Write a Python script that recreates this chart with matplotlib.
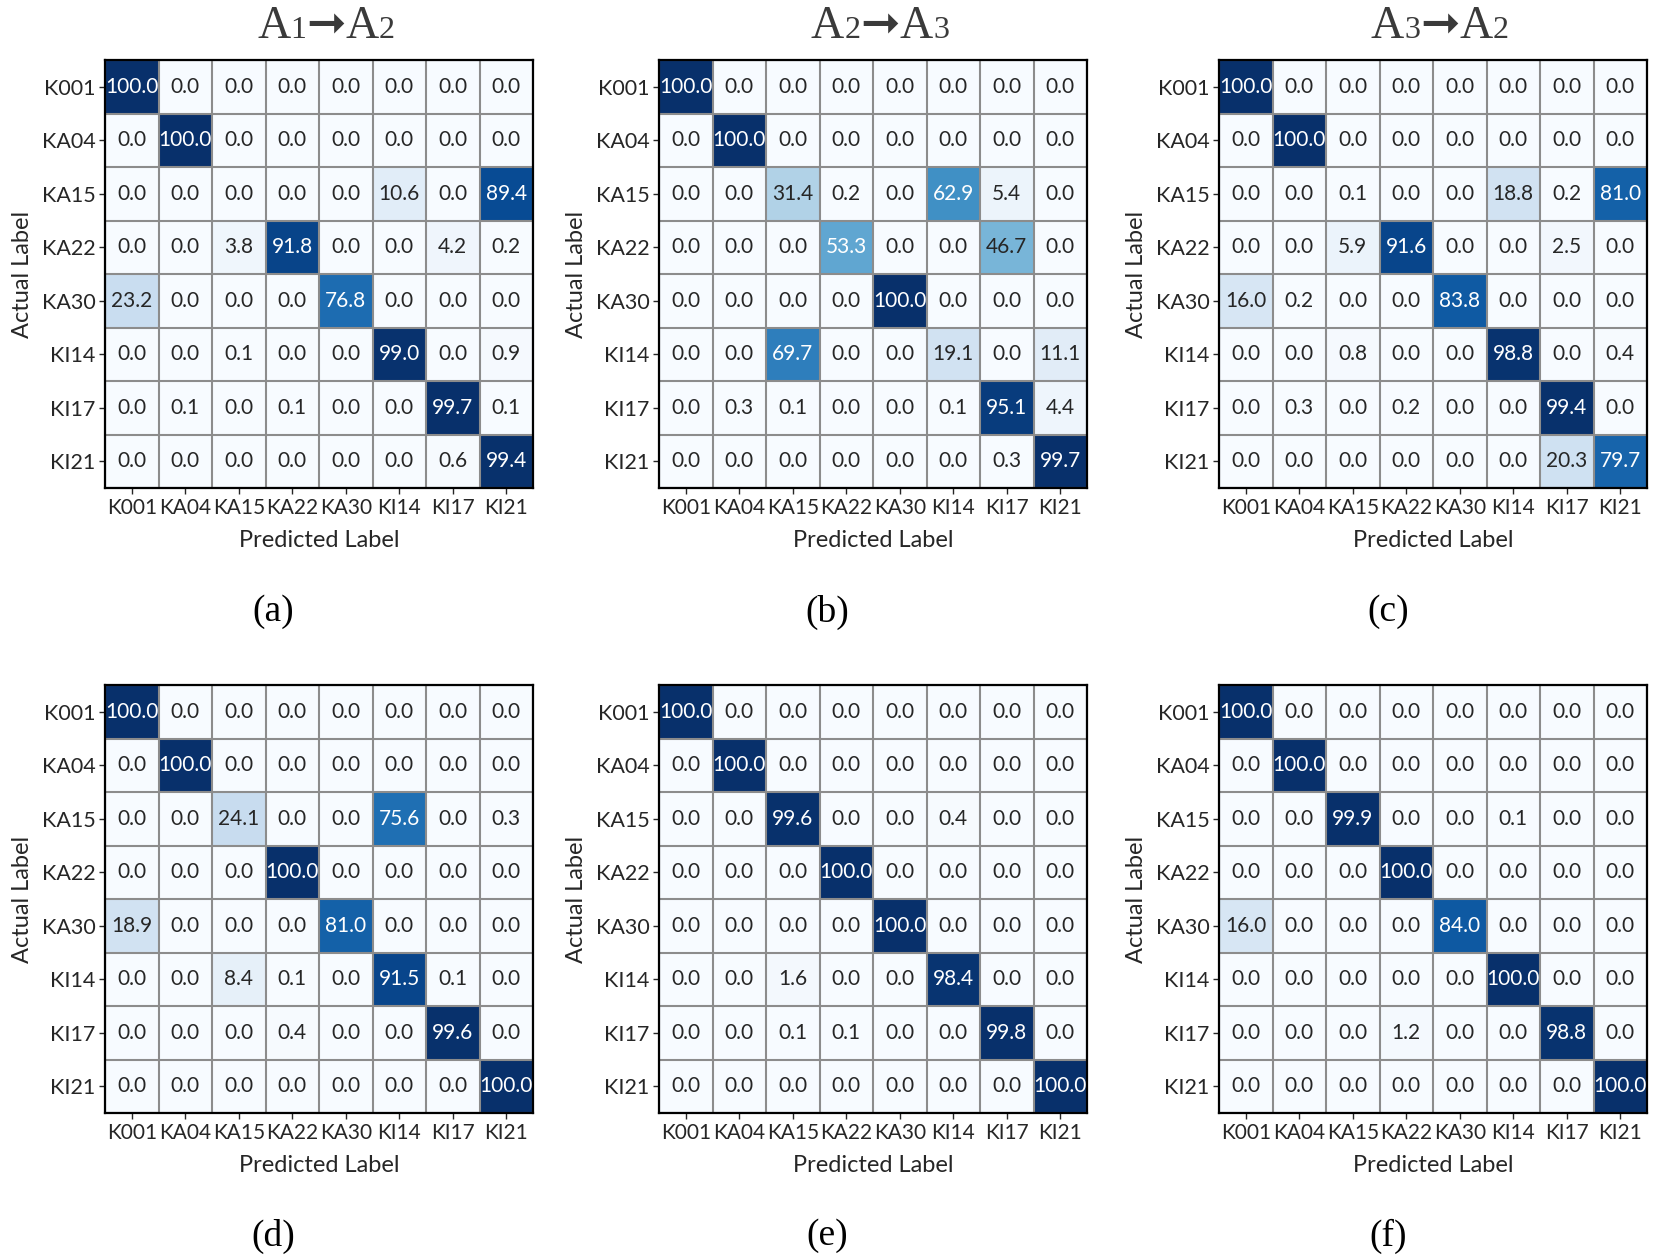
import matplotlib
matplotlib.use("Agg")
import matplotlib.pyplot as plt
import numpy as np

LABELS = ["K001", "KA04", "KA15", "KA22", "KA30", "KI14", "KI17", "KI21"]

CM_A = [[100.0, 0.0, 0.0, 0.0, 0.0, 0.0, 0.0, 0.0],
        [0.0, 100.0, 0.0, 0.0, 0.0, 0.0, 0.0, 0.0],
        [0.0, 0.0, 0.0, 0.0, 0.0, 10.6, 0.0, 89.4],
        [0.0, 0.0, 3.8, 91.8, 0.0, 0.0, 4.2, 0.2],
        [23.2, 0.0, 0.0, 0.0, 76.8, 0.0, 0.0, 0.0],
        [0.0, 0.0, 0.1, 0.0, 0.0, 99.0, 0.0, 0.9],
        [0.0, 0.1, 0.0, 0.1, 0.0, 0.0, 99.7, 0.1],
        [0.0, 0.0, 0.0, 0.0, 0.0, 0.0, 0.6, 99.4]]

CM_B = [[100.0, 0.0, 0.0, 0.0, 0.0, 0.0, 0.0, 0.0],
        [0.0, 100.0, 0.0, 0.0, 0.0, 0.0, 0.0, 0.0],
        [0.0, 0.0, 31.4, 0.2, 0.0, 62.9, 5.4, 0.0],
        [0.0, 0.0, 0.0, 53.3, 0.0, 0.0, 46.7, 0.0],
        [0.0, 0.0, 0.0, 0.0, 100.0, 0.0, 0.0, 0.0],
        [0.0, 0.0, 69.7, 0.0, 0.0, 19.1, 0.0, 11.1],
        [0.0, 0.3, 0.1, 0.0, 0.0, 0.1, 95.1, 4.4],
        [0.0, 0.0, 0.0, 0.0, 0.0, 0.0, 0.3, 99.7]]

CM_C = [[100.0, 0.0, 0.0, 0.0, 0.0, 0.0, 0.0, 0.0],
        [0.0, 100.0, 0.0, 0.0, 0.0, 0.0, 0.0, 0.0],
        [0.0, 0.0, 0.1, 0.0, 0.0, 18.8, 0.2, 81.0],
        [0.0, 0.0, 5.9, 91.6, 0.0, 0.0, 2.5, 0.0],
        [16.0, 0.2, 0.0, 0.0, 83.8, 0.0, 0.0, 0.0],
        [0.0, 0.0, 0.8, 0.0, 0.0, 98.8, 0.0, 0.4],
        [0.0, 0.3, 0.0, 0.2, 0.0, 0.0, 99.4, 0.0],
        [0.0, 0.0, 0.0, 0.0, 0.0, 0.0, 20.3, 79.7]]

CM_D = [[100.0, 0.0, 0.0, 0.0, 0.0, 0.0, 0.0, 0.0],
        [0.0, 100.0, 0.0, 0.0, 0.0, 0.0, 0.0, 0.0],
        [0.0, 0.0, 24.1, 0.0, 0.0, 75.6, 0.0, 0.3],
        [0.0, 0.0, 0.0, 100.0, 0.0, 0.0, 0.0, 0.0],
        [18.9, 0.0, 0.0, 0.0, 81.0, 0.0, 0.0, 0.0],
        [0.0, 0.0, 8.4, 0.1, 0.0, 91.5, 0.1, 0.0],
        [0.0, 0.0, 0.0, 0.4, 0.0, 0.0, 99.6, 0.0],
        [0.0, 0.0, 0.0, 0.0, 0.0, 0.0, 0.0, 100.0]]

CM_E = [[100.0, 0.0, 0.0, 0.0, 0.0, 0.0, 0.0, 0.0],
        [0.0, 100.0, 0.0, 0.0, 0.0, 0.0, 0.0, 0.0],
        [0.0, 0.0, 99.6, 0.0, 0.0, 0.4, 0.0, 0.0],
        [0.0, 0.0, 0.0, 100.0, 0.0, 0.0, 0.0, 0.0],
        [0.0, 0.0, 0.0, 0.0, 100.0, 0.0, 0.0, 0.0],
        [0.0, 0.0, 1.6, 0.0, 0.0, 98.4, 0.0, 0.0],
        [0.0, 0.0, 0.1, 0.1, 0.0, 0.0, 99.8, 0.0],
        [0.0, 0.0, 0.0, 0.0, 0.0, 0.0, 0.0, 100.0]]

CM_F = [[100.0, 0.0, 0.0, 0.0, 0.0, 0.0, 0.0, 0.0],
        [0.0, 100.0, 0.0, 0.0, 0.0, 0.0, 0.0, 0.0],
        [0.0, 0.0, 99.9, 0.0, 0.0, 0.1, 0.0, 0.0],
        [0.0, 0.0, 0.0, 100.0, 0.0, 0.0, 0.0, 0.0],
        [16.0, 0.0, 0.0, 0.0, 84.0, 0.0, 0.0, 0.0],
        [0.0, 0.0, 0.0, 0.0, 0.0, 100.0, 0.0, 0.0],
        [0.0, 0.0, 0.0, 1.2, 0.0, 0.0, 98.8, 0.0],
        [0.0, 0.0, 0.0, 0.0, 0.0, 0.0, 0.0, 100.0]]

PANELS   = [CM_A, CM_B, CM_C, CM_D, CM_E, CM_F]
CAPTIONS = ["(a)", "(b)", "(c)", "(d)", "(e)", "(f)"]
TITLES   = [("1", "2"), ("2", "3"), ("3", "2")]

W, H = 1661, 1260
SANS  = ["Lato", "DejaVu Sans"]
SERIF = ["Liberation Serif", "DejaVu Sans"]
TXT = "#262626"

fig = plt.figure(figsize=(W/100, H/100), dpi=100)
col_left = [105, 659, 1219]
row_top  = [60, 685]
size_px  = 428

def draw_cm(ax, cm):
    cm = np.array(cm)
    ax.imshow(cm, cmap="Blues", vmin=0, vmax=100, aspect="equal")
    n = len(LABELS)
    ax.set_xticks(np.arange(n)); ax.set_yticks(np.arange(n))
    ax.set_xticklabels(LABELS, family=SANS, fontsize=15, color=TXT)
    ax.set_yticklabels(LABELS, family=SANS, fontsize=15.5, color=TXT)
    ax.set_xticks(np.arange(n+1)-0.5, minor=True); ax.set_yticks(np.arange(n+1)-0.5, minor=True)
    ax.grid(which="minor", color="#8c8c8c", linewidth=1.5)
    ax.tick_params(which="minor", length=0)
    ax.tick_params(which="major", length=4, width=1, color=TXT, pad=3)
    for s in ax.spines.values(): s.set_linewidth(1.6); s.set_edgecolor("black")
    for i in range(n):
        for j in range(n):
            v = cm[i, j]
            ax.text(j, i, f"{v:.1f}", ha="center", va="center", family=SANS, fontsize=15,
                    color="white" if v > 50 else TXT)
    ax.set_xlabel("Predicted Label", family=SANS, fontsize=17, color=TXT, labelpad=9)
    ax.set_ylabel("Actual Label", family=SANS, fontsize=17, color=TXT, labelpad=6)

for k, cm in enumerate(PANELS):
    r, c = divmod(k, 3)
    ax = fig.add_axes([col_left[c]/W, 1-(row_top[r]+size_px)/H, size_px/W, size_px/H])
    draw_cm(ax, cm)

# subfigure captions
cap_x = [273, 827, 1388]
cap_y = [612, 1236]
for k, cap in enumerate(CAPTIONS):
    r, c = divmod(k, 3)
    fig.text(cap_x[c]/W, 1-cap_y[r]/H, cap, ha="center", va="center", family=SERIF, fontsize=27, color="black")

# titles "A1 ➞ A2" with smaller digits, placed piece by piece on a common baseline
renderer = fig.canvas.get_renderer()
for c, (a, b) in enumerate(TITLES):
    parts = [("A", 33), (a, 23), ("➞", 34), ("A", 33), (b, 23)]
    texts = [fig.text(0, 1-38/H, s, ha="left", va="baseline", fontsize=sz, color="#3a3a3a",
                      family=SERIF) for s, sz in parts]
    widths = [t.get_window_extent(renderer).width for t in texts]
    x = col_left[c] + size_px/2 + 7 - sum(widths)/2
    for t, w in zip(texts, widths):
        t.set_x(x/W); x += w

fig.savefig("out.png", dpi=100, facecolor="white")
